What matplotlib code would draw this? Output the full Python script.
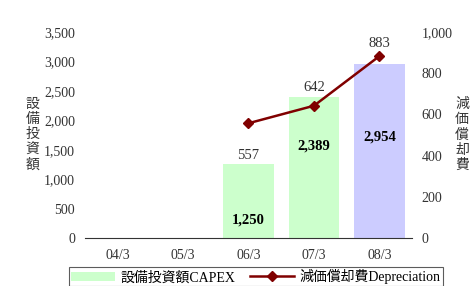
import matplotlib
matplotlib.use("Agg")
import matplotlib.pyplot as plt
from matplotlib.lines import Line2D
from matplotlib.patches import Patch

# Data
years = ["04/3", "05/3", "06/3", "07/3", "08/3"]
capex = [0, 0, 1250, 2389, 2954]
capex_label_y = [None, None, 306, 1563, 1716]
dep_years = [2, 3, 4]
depreciation = [557, 642, 883]
dep_label_offset = [-23, 13, 9]
bar_colors = ["#CCFFCC", "#CCFFCC", "#CCFFCC", "#CCFFCC", "#CCCCFF"]

fonts = ["Liberation Serif", "Noto Sans CJK JP"]
plt.rcParams["font.family"] = fonts

fig = plt.figure(figsize=(4.71, 2.86), dpi=100)
ax = fig.add_axes([0.180, 0.168, 0.695, 0.720])
ax2 = ax.twinx()

x = list(range(len(years)))
ax.bar(x, capex, width=0.77, color=bar_colors, zorder=2)
for i, v in enumerate(capex):
    if v > 0:
        ax.text(i, capex_label_y[i], f"{v:,}", ha="center", va="center",
                fontsize=10.5, fontweight="bold", color="black", zorder=5)

ax2.plot(dep_years, depreciation, color="#800000", lw=1.8, marker="D",
         markersize=5.5, zorder=4)
for xi, v, off in zip(dep_years, depreciation, dep_label_offset):
    ax2.annotate(f"{v}", (xi, v), xytext=(0, off), textcoords="offset points",
                 ha="center", va="center", fontsize=10.5, color="#333333")

ax.set_xlim(-0.5, 4.5)
ax.set_ylim(0, 3500)
ax2.set_ylim(0, 1000)
ax.set_yticks(range(0, 3501, 500))
ax2.set_yticks(range(0, 1001, 200))
ax.set_yticklabels([f"{v:,}" for v in range(0, 3501, 500)])
ax2.set_yticklabels([f"{v:,}" for v in range(0, 1001, 200)])
ax.set_xticks(x)
ax.set_xticklabels(years)

for a in (ax, ax2):
    for s in ("top", "left", "right", "bottom"):
        a.spines[s].set_visible(False)
    a.tick_params(length=0, labelsize=10, colors="#333333")
ax.spines["bottom"].set_visible(True)
ax.spines["bottom"].set_color("#333333")
ax.tick_params(axis="y", pad=7)
ax.tick_params(axis="x", pad=8)
ax2.tick_params(axis="y", pad=7)
ax2.set_zorder(ax.get_zorder() + 1)
ax2.patch.set_visible(False)

fig.text(0.069, 0.528, "\n".join("設備投資額"), ha="center", va="center",
         fontsize=10, color="#333333", linespacing=1.2)
fig.text(0.981, 0.528, "\n".join("減価償却費"), ha="center", va="center",
         fontsize=10, color="#333333", linespacing=1.2)

handles = [Patch(facecolor="#CCFFCC", edgecolor="none"),
           Line2D([0], [0], color="#800000", lw=1.8, marker="D", markersize=5.5)]
labels = ["設備投資額CAPEX", "減価償却費Depreciation"]
leg = fig.legend(handles, labels, loc="upper center", bbox_to_anchor=(0.543, 0.066),
                 ncol=2, fontsize=10, frameon=True, fancybox=False,
                 handlelength=3.2, columnspacing=1.0, borderpad=0.15,
                 handletextpad=0.4, borderaxespad=0)
leg.get_frame().set_edgecolor("#333333")
leg.get_frame().set_linewidth(0.8)

fig.savefig("out.png", dpi=100)
